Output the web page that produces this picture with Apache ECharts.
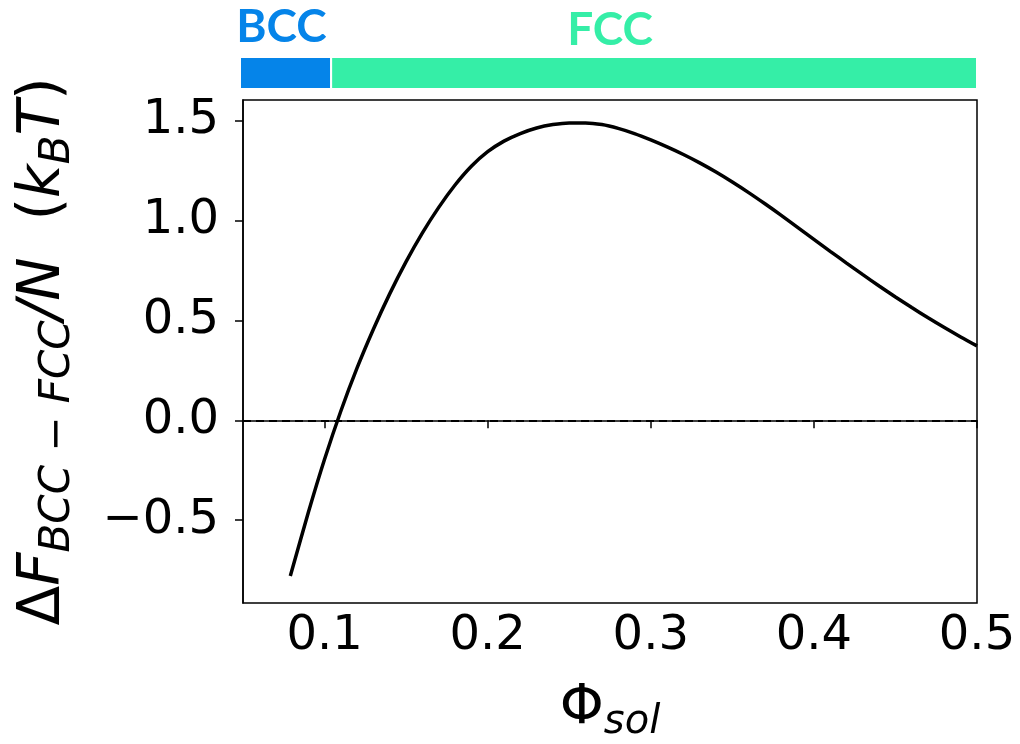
<!DOCTYPE html>
<html>
<head>
<meta charset="utf-8">
<script src="https://cdn.jsdelivr.net/npm/echarts@6/dist/echarts.min.js"></script>
<style>
  html, body { margin: 0; padding: 0; background: #fff; }
  #chart { width: 1020px; height: 744px; }
</style>
</head>
<body>
<div id="chart"></div>
<script>
// volume fraction of the solid
var phiValues = [0.079, 0.09, 0.10, 0.11, 0.12, 0.13, 0.14, 0.15, 0.16, 0.17, 0.18, 0.19, 0.20,
                 0.21, 0.22, 0.23, 0.24, 0.25, 0.26, 0.27, 0.28, 0.29, 0.30, 0.31, 0.32, 0.33,
                 0.34, 0.35, 0.36, 0.37, 0.38, 0.39, 0.40, 0.41, 0.42, 0.43, 0.44, 0.45, 0.46,
                 0.47, 0.48, 0.49, 0.50];
// free energy difference per particle (kBT)
var deltaF = [-0.78, -0.463, -0.195, 0.047, 0.264, 0.458, 0.635, 0.795, 0.939, 1.067, 1.179, 1.273, 1.346,
              1.399, 1.437, 1.465, 1.482, 1.49, 1.49, 1.482, 1.463, 1.437, 1.405, 1.37, 1.332, 1.29,
              1.244, 1.194, 1.141, 1.085, 1.027, 0.967, 0.907, 0.847, 0.788, 0.73, 0.673, 0.618, 0.565,
              0.514, 0.465, 0.418, 0.373];
var xTicks = [0.1, 0.2, 0.3, 0.4, 0.5];
var yTicks = [-0.5, 0.0, 0.5, 1.0, 1.5];
// stable phase bands above the plot
var phaseNames = ['BCC', 'FCC'];
var phaseBounds = [[0.05, 0.1045], [0.1058, 0.5]];
var phaseColors = ['#0584E9', '#35EEA7'];

var chart = echarts.init(document.getElementById('chart'));

var points = phiValues.map(function (p, i) { return [p, deltaF[i]]; });
var fmt = function (v) { return v.toFixed(1).replace('-', '\u2212'); };

var option = {
    animation: false,
    backgroundColor: '#fff',
    textStyle: { fontFamily: 'DejaVu Sans' },
    grid: [
        { left: 243, right: 43, top: 100, bottom: 141, outerBoundsMode: 'none',
          show: true, borderColor: '#000', borderWidth: 1.5 },
        { left: 241, right: 44, top: 58, height: 30, outerBoundsMode: 'none' }
    ],
    xAxis: [
        {
            type: 'value', gridIndex: 0, min: 0.05, max: 0.5,
            name: '{m|\u03A6}{s|sol}', nameLocation: 'middle', nameGap: 70,
            nameTextStyle: {
                rich: {
                    m: { fontFamily: 'DejaVu Sans', fontSize: 56, color: '#000', lineHeight: 70 },
                    s: { fontFamily: 'DejaVu Sans', fontStyle: 'italic', fontSize: 40, color: '#000',
                         verticalAlign: 'bottom', lineHeight: 40 }
                }
            },
            axisLine: { show: true, lineStyle: { color: '#000', width: 1.5 } },
            axisTick: { show: true, length: 8, customValues: xTicks, lineStyle: { color: '#000', width: 1.5 } },
            axisLabel: { customValues: xTicks, fontSize: 48, color: '#000', margin: 10, formatter: fmt },
            splitLine: { show: false }
        },
        { type: 'value', gridIndex: 1, min: 0.05, max: 0.5, show: false }
    ],
    yAxis: [
        {
            type: 'value', gridIndex: 0, min: -0.915, max: 1.605,
            name: '{m|\u0394}{i|F}{s|BCC \u2212 FCC}{i|/N}{m|  (}{i|k}{s|B}{i|T}{m|)}',
            nameLocation: 'middle', nameRotate: 90, nameGap: 164,
            nameTextStyle: {
                rich: {
                    m: { fontFamily: 'DejaVu Sans', fontSize: 58, color: '#000', lineHeight: 70 },
                    i: { fontFamily: 'DejaVu Sans', fontStyle: 'italic', fontSize: 58, color: '#000', lineHeight: 70 },
                    s: { fontFamily: 'DejaVu Sans', fontStyle: 'italic', fontSize: 42, color: '#000',
                         verticalAlign: 'bottom', lineHeight: 40 }
                }
            },
            axisLine: { show: true, lineStyle: { color: '#000', width: 1.5 } },
            axisTick: { show: true, length: 8, customValues: yTicks, lineStyle: { color: '#000', width: 1.5 } },
            axisLabel: { customValues: yTicks, fontSize: 48, color: '#000', margin: 24, formatter: fmt },
            splitLine: { show: false }
        },
        { type: 'value', gridIndex: 1, min: 0, max: 1, show: false }
    ],
    series: [
        {
            type: 'line', xAxisIndex: 0, yAxisIndex: 0,
            data: points, showSymbol: false, smooth: 0.3,
            lineStyle: { color: '#000', width: 3.5 },
            markLine: {
                silent: true, symbol: 'none', label: { show: false },
                lineStyle: { color: '#000', type: [8, 5], width: 2 },
                data: [{ yAxis: 0 }]
            }
        },
        {
            type: 'line', xAxisIndex: 1, yAxisIndex: 1, data: [],
            markArea: {
                silent: true,
                data: phaseBounds.map(function (b, i) {
                    return [
                        {
                            xAxis: b[0], name: phaseNames[i],
                            itemStyle: { color: phaseColors[i] },
                            label: {
                                show: true, position: 'top', distance: 8,
                                offset: i === 1 ? [-44, 3] : [-4, 0],
                                fontFamily: 'Lato', fontWeight: 'bold', fontSize: 46,
                                color: phaseColors[i]
                            }
                        },
                        { xAxis: b[1] }
                    ];
                })
            }
        }
    ]
};

chart.setOption(option);
</script>
</body>
</html>
